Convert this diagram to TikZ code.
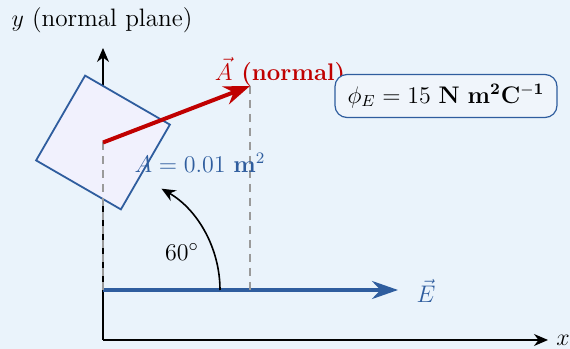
\documentclass[tikz,border=0pt]{standalone}
\usetikzlibrary{arrows.meta}
\definecolor{bg}{HTML}{EAF3FB}
\definecolor{eblue}{HTML}{2F5D9E}
\definecolor{ared}{HTML}{C00000}
\definecolor{sqfill}{HTML}{F1F1FD}
\definecolor{boxfill}{HTML}{F0F5FB}
\definecolor{dashgray}{HTML}{9A9A9A}
\begin{document}
\begin{tikzpicture}[x=0.5pt,y=0.5pt,
  every node/.style={font=\fontsize{12}{14}\selectfont, inner sep=1pt},
  axis/.style={line width=0.8pt, -{Stealth[length=7pt,width=6pt]}},
  evec/.style={eblue, line width=1.8pt, -{Stealth[length=13pt,width=9pt]}},
  avec/.style={ared, line width=2pt, -{Stealth[length=13pt,width=9.5pt]}},
  guide/.style={dashgray, dashed, line width=0.6pt, dash pattern=on 4pt off 3pt},
  plate/.style={draw=eblue, fill=sqfill, line width=0.9pt, line join=miter},
  fluxbox/.style={draw=eblue, fill=boxfill, rounded corners=6pt, line width=0.6pt, minimum width=111pt, minimum height=21.5pt, inner sep=0pt}
]
\useasboundingbox[fill=bg] (0,0) rectangle (570,349);
% axes
\coordinate (O) at (103,9);
\coordinate (xend) at (548,9);
\coordinate (yend) at (103,301);
\draw[axis] (O) -- (xend);
\draw[axis] (O) -- (yend);
\node (xl) at (563,9) {$x$};
\node[font=\fontsize{12.6}{14}\selectfont] (yl) at (102,329) {$y$ (normal plane)};
% plate
\coordinate (C) at (103,206.5);
\coordinate (p1) at (85.1,273.4);
\coordinate (p2) at (169.9,224.4);
\coordinate (p3) at (120.9,139.6);
\coordinate (p4) at (36.1,188.6);
\draw[plate] (p1) -- (p2) -- (p3) -- (p4) -- cycle;
% E field
\coordinate (Es) at (103,59);
\coordinate (Ee) at (398,59);
\draw[evec] (Es) -- (Ee);
\node[text=eblue] (El) at (426,58) {$\vec{E}$};
% guides
\coordinate (Ae) at (250,263);
\coordinate (Af) at (250,59);
\draw[guide] (C) -- (Es);
\draw[guide] (Ae) -- (Af);
% area vector
\draw[avec] (C) -- (Ae);
\node[text=ared] (Al) at (280,277) {\textbf{$\vec{A}$ (normal)}};
% area label
\node[text=eblue] (areal) at (200,186) {$A = 0.01\ \mathbf{m}^2$};
% angle
\coordinate (a0) at (220,59);
\draw[line width=0.8pt, -{Stealth[length=7pt,width=6pt]}] (a0) arc[start angle=0, end angle=60, radius=117];
\node[font=\fontsize{13}{15}\selectfont] (ang) at (182,97) {$60^\circ$};
% flux box
\node[fluxbox] (flux) at (446,253) {$\phi_E = 15\ \mathbf{N\ m^2C^{-1}}$};
\end{tikzpicture}
\end{document}
